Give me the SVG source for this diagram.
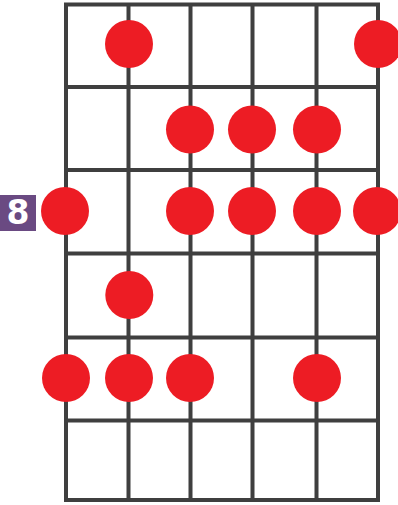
<svg xmlns="http://www.w3.org/2000/svg" width="398" height="505" viewBox="0 0 398 505">
<style>
.ln{stroke:#3f3f3f;stroke-width:4;fill:none}
.dot{fill:#ed1c24}
.lbl{fill:#6a4a82}
.lt{fill:#ffffff;font-family:"DejaVu Sans",sans-serif;font-weight:bold;font-size:33px;text-anchor:middle}
</style>
<rect width="398" height="505" fill="#ffffff"/>
<g id="grid">
<rect class="ln" x="66" y="4.5" width="312" height="495.5"/>
<line class="ln" x1="128.5" y1="4.5" x2="128.5" y2="500"/>
<line class="ln" x1="190.5" y1="4.5" x2="190.5" y2="500"/>
<line class="ln" x1="252.5" y1="4.5" x2="252.5" y2="500"/>
<line class="ln" x1="316.5" y1="4.5" x2="316.5" y2="500"/>
<line class="ln" x1="66" y1="87" x2="378" y2="87"/>
<line class="ln" x1="66" y1="170" x2="378" y2="170"/>
<line class="ln" x1="66" y1="253.5" x2="378" y2="253.5"/>
<line class="ln" x1="66" y1="337.5" x2="378" y2="337.5"/>
<line class="ln" x1="66" y1="420.5" x2="378" y2="420.5"/>
</g>
<g id="label">
<rect class="lbl" x="0" y="195" width="36" height="36"/>
<text class="lt" x="18" y="224">8</text>
</g>
<g id="dots">
<circle class="dot" cx="129" cy="44" r="24"/>
<circle class="dot" cx="378" cy="44" r="24"/>
<circle class="dot" cx="190" cy="129.5" r="24"/>
<circle class="dot" cx="252" cy="129.5" r="24"/>
<circle class="dot" cx="317" cy="129.5" r="24"/>
<circle class="dot" cx="65" cy="211" r="24"/>
<circle class="dot" cx="190" cy="211" r="24"/>
<circle class="dot" cx="252" cy="211" r="24"/>
<circle class="dot" cx="317" cy="211" r="24"/>
<circle class="dot" cx="377" cy="211" r="24"/>
<circle class="dot" cx="129.3" cy="295" r="24"/>
<circle class="dot" cx="66" cy="378" r="24"/>
<circle class="dot" cx="129" cy="378" r="24"/>
<circle class="dot" cx="190" cy="378" r="24"/>
<circle class="dot" cx="317" cy="378" r="24"/>
</g>
</svg>
